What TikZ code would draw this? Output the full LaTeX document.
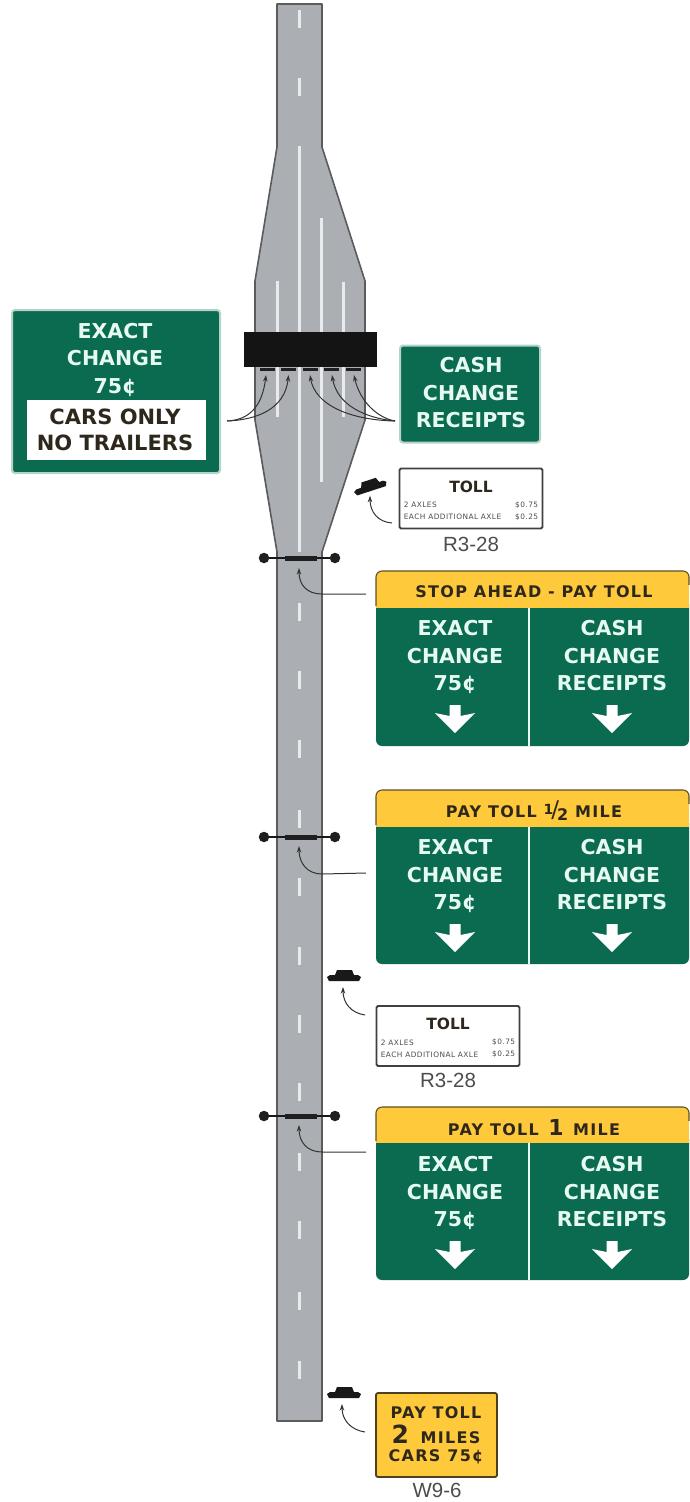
\documentclass[tikz,border=0pt]{standalone}
\usepackage{fontspec}
\setmainfont{Liberation Sans}
\newfontfamily\signfont{DejaVu Sans}
\newfontfamily\headfont{DejaVu Sans}[LetterSpace=8]
\newfontfamily\rowfont{DejaVu Sans}[LetterSpace=6]
\usetikzlibrary{arrows.meta,calc}
\definecolor{signgreen}{HTML}{0B6B50}
\definecolor{signyellow}{HTML}{FFC93C}
\definecolor{road}{HTML}{ABAEB2}
\definecolor{roadedge}{HTML}{5A5B5F}
\definecolor{signtext}{HTML}{2E281C}
\definecolor{signwhite}{HTML}{E6FAF2}
\definecolor{laneline}{HTML}{E9EAEC}
\tikzset{
 x=1pt,y=-1pt,
 roadshape/.style={fill=road,draw=roadedge,line width=1.6pt,line join=round},
 lanemark/.style={draw=laneline,line width=3pt},
 dashmark/.style={draw=laneline,line width=3.4pt},
 leader/.style={draw=black!80,line width=1pt,-{Stealth[length=6.5pt,width=4.5pt]}},
 gtext/.style={text=signwhite,font=\signfont\bfseries\fontsize{20.5}{27.5}\selectfont,align=center,inner sep=0pt},
 btext/.style={text=signtext,font=\signfont\bfseries\fontsize{21}{26}\selectfont,align=center,inner sep=0pt},
 htext/.style={text=signtext,font=\headfont\bfseries\fontsize{16}{18}\selectfont,align=center,inner sep=0pt},
 ytext/.style={text=signtext,font=\headfont\bfseries\fontsize{16}{18}\selectfont,align=center,inner sep=0pt},
 codelabel/.style={text=black!70,font=\fontsize{20.5}{23}\selectfont,inner sep=0pt},
 tolltitle/.style={text=signtext,font=\signfont\bfseries\fontsize{15.5}{17}\selectfont,inner sep=0pt},
 tollrow/.style={text=black!70,font=\rowfont\fontsize{7.4}{8}\selectfont,inner sep=0pt},
 tollbox/.style={draw=black!75,line width=1.8pt,fill=white,rounded corners=1.5pt,inner sep=0pt},
 bulb/.style={circle,fill=black!88,inner sep=0pt,minimum size=10.5pt},
 beam/.style={draw=black!90,line width=1.3pt},
 headbar/.style={fill=black!88,draw=none,inner sep=0pt,minimum height=3.5pt},
 greenbox/.style={fill=signgreen,draw=signgreen!30!white,line width=2pt,rounded corners=3pt,inner sep=0pt},
}
% a guide sign: left x is fixed; #1 top, #2 yellow bottom, #3 bottom, #4 header text, #5 name
\newcommand{\guidesign}[5]{%
 \fill[signgreen,rounded corners=6pt] (376,{#2-10}) rectangle (689,#3);
 \fill[signyellow,rounded corners=6pt] (376,#1) rectangle (689,{#1+16});
 \fill[signyellow] (376,{#1+8}) rectangle (689,#2);
 \draw[signtext!75!signyellow,line width=1.1pt,rounded corners=6pt] (376,{#2-2}) -- (376,#1) -- (689,#1) -- (689,{#1+14});
 \draw[signwhite,line width=2.2pt] (529,#2) -- (529,#3);
 \node[htext] (#5h) at (534,{#1+21}) {#4};
 \node[gtext] (#5l) at (455,{#1+86}) {EXACT\\CHANGE\\75¢};
 \node[gtext] (#5r) at (612,{#1+85}) {CASH\\CHANGE\\RECEIPTS};
 \foreach \cx in {455,612}{
  \fill[white] (\cx,{#1+162}) -- ({\cx-20},{#1+142}) -- ({\cx-5.5},{#1+145}) -- ({\cx-5.5},{#1+134}) -- ({\cx+5.5},{#1+134}) -- ({\cx+5.5},{#1+145}) -- ({\cx+20},{#1+142}) -- cycle;
 }
}
% regulatory toll sign: #1 x, #2 y of centre, #3 name
\newcommand{\tollsign}[3]{%
 \node[tollbox,minimum width=143pt,minimum height=60pt] (#3) at (#1,#2) {};
 \node[tolltitle] (#3t) at ($(#3.center)+(0,-12)$) {TOLL};
 \node[tollrow,anchor=west] (#3a) at ($(#3.west)+(5,6.5)$) {2 AXLES};
 \node[tollrow,anchor=east] (#3b) at ($(#3.east)+(-5,6.5)$) {\$0.75};
 \node[tollrow,anchor=west] (#3c) at ($(#3.west)+(5,18.5)$) {EACH ADDITIONAL AXLE};
 \node[tollrow,anchor=east] (#3d) at ($(#3.east)+(-5,18.5)$) {\$0.25};
}
% ground-mounted sign symbol centred on x,y
\newcommand{\postsymbol}[3]{%
 \fill[black!90,rotate around={#3:(#1,#2)}] ({#1-17},{#2+1}) -- ({#1-14},{#2-1}) -- ({#1-9},{#2-1}) -- ({#1-7},{#2-6}) -- ({#1+8},{#2-6}) -- ({#1+10},{#2-1}) -- ({#1+14},{#2-1}) -- ({#1+17},{#2+1}) -- ({#1+15},{#2+5}) -- ({#1-15},{#2+5}) -- cycle;
}
% gantry: #1 y, #2 name
\newcommand{\gantry}[2]{%
 \node[bulb] (#2a) at (264,#1) {};
 \node[bulb] (#2b) at (335,#1) {};
 \draw[beam] (#2a) -- (#2b);
 \node[headbar,minimum width=32pt,minimum height=5pt] (#2c) at (301,{#1+0.5}) {};
}
\begin{document}
\begin{tikzpicture}
\useasboundingbox (0,0) rectangle (689,1502);
% road
\path[roadshape] (277,4) -- (277,147) -- (255,281) -- (255,420) -- (277,552) -- (277,1421) -- (322,1421) -- (322,552) -- (365,420) -- (365,281) -- (322,147) -- (322,4) -- cycle;
% solid lanes
\draw[lanemark] (299.5,146) -- (299.5,552);
\draw[lanemark] (321,218) -- (321,482);
\draw[lanemark] (277,281) -- (277,417);
\draw[lanemark] (343.5,282) -- (343.5,417);
% dashes
\foreach \y in {10,78,603,671,740,810,878,947,1015,1083,1153,1221,1292,1361}{
  \draw[dashmark] (299.5,\y) -- (299.5,{\y+18});
}
% plaza
\node[fill=black!92,draw=none,minimum width=133pt,minimum height=35.5pt,inner sep=0pt] (plaza) at (310.5,349.5) {};
\foreach \x [count=\i] in {267,288.5,310.5,331.5,353.5}{
  \node[headbar,minimum width=15pt] (booth\i) at (\x,369.5) {};
}
% exact change sign
\node[greenbox,minimum width=208pt,minimum height=163pt] (exact) at (116,391.5) {};
\node[gtext] (exactt) at (115,359.5) {EXACT\\CHANGE\\75¢};
\node[fill=white,minimum width=179pt,minimum height=60pt,inner sep=0pt] (exactw) at (116.5,430) {};
\node[btext] (exactb) at (115,430) {CARS\hspace{0.35em}ONLY\\NO TRAILERS};
% cash sign
\node[greenbox,minimum width=140pt,minimum height=97pt] (cash) at (470,394) {};
\node[gtext] (casht) at (471,393) {CASH\\CHANGE\\RECEIPTS};
% plaza leaders
\coordinate (ex) at (227,421);
\coordinate (ca) at (395,421);
\coordinate (t1) at (266,375);
\coordinate (t2) at (288.5,375);
\coordinate (t3) at (310,375);
\coordinate (t4) at (332,375);
\coordinate (t5) at (354,375);
\draw[leader] (ex) .. controls (248,420) and (262,408) .. (t1);
\draw[leader] (ex) .. controls (255,420) and (285,410) .. (t2);
\draw[leader] (ca) .. controls (350,420) and (315,405) .. (t3);
\draw[leader] (ca) .. controls (365,418) and (337,405) .. (t4);
\draw[leader] (ca) .. controls (378,418) and (360,402) .. (t5);
% toll sign 1
\tollsign{471}{498.5}{tollone}
\node[codelabel] (codeone) at (471,544) {R3-28};
\postsymbol{370}{486}{18}
\node[inner sep=0pt,minimum size=1pt] (postone) at (370,495) {};
\coordinate (tollonefoot) at (392,523);
\draw[leader] (tollonefoot) .. controls (378,522) and (370,512) .. (postone);
% gantries
\gantry{558}{ga}
\gantry{837}{gb}
\gantry{1116}{gc}
% guide signs
\guidesign{571}{608}{746}{STOP AHEAD - PAY TOLL}{sa}
\guidesign{790}{827}{964}{PAY TOLL \raisebox{3pt}{\fontsize{14}{14}\selectfont 1}\hspace{-2pt}{\fontsize{23}{23}\selectfont\mdseries /}\hspace{-2pt}\raisebox{-3pt}{\fontsize{16}{16}\selectfont 2} MILE}{sb}
\guidesign{1107}{1143}{1280}{PAY TOLL \,{\fontsize{22}{22}\selectfont 1}\, MILE}{sc}
% guide leaders
\coordinate (saf) at (366,594);
\coordinate (sbf) at (366,873);
\coordinate (scf) at (366,1152);
\coordinate (gat) at (299,568);
\coordinate (gbt) at (299,846);
\coordinate (gct) at (299,1125);
\draw[leader] (saf) -- (322,594) .. controls (307,594) and (299,585) .. (gat);
\draw[leader] (sbf) -- (322,874) .. controls (307,874) and (299,863) .. (gbt);
\draw[leader] (scf) -- (322,1152) .. controls (307,1152) and (299,1142) .. (gct);
% toll sign 2
\tollsign{448}{1036}{tolltwo}
\node[codelabel] (codetwo) at (448,1080) {R3-28};
\postsymbol{344}{976}{0}
\coordinate (posttwo) at (343,987);
\coordinate (tolltwofoot) at (365,1015);
\draw[leader] (tolltwofoot) .. controls (351,1013) and (343,1003) .. (posttwo);
% warning sign
\node[fill=signyellow,draw=signtext!85!signyellow,line width=1.8pt,rounded corners=2pt,minimum width=121pt,minimum height=84pt,inner sep=0pt] (warn) at (436.5,1435) {};
\node[ytext] (warna) at (436,1413) {PAY TOLL};
\node[ytext] (warnb) at (436,1434) {{\fontsize{25}{25}\selectfont 2}\hspace{0.3em} MILES};
\node[ytext] (warnc) at (436,1457) {CARS 75¢};
\node[codelabel] (codethree) at (437,1490) {W9-6};
\postsymbol{344}{1393}{0}
\coordinate (postthree) at (342,1404);
\coordinate (warnfoot) at (365,1432);
\draw[leader] (warnfoot) .. controls (351,1430) and (342,1420) .. (postthree);
\end{tikzpicture}
\end{document}
